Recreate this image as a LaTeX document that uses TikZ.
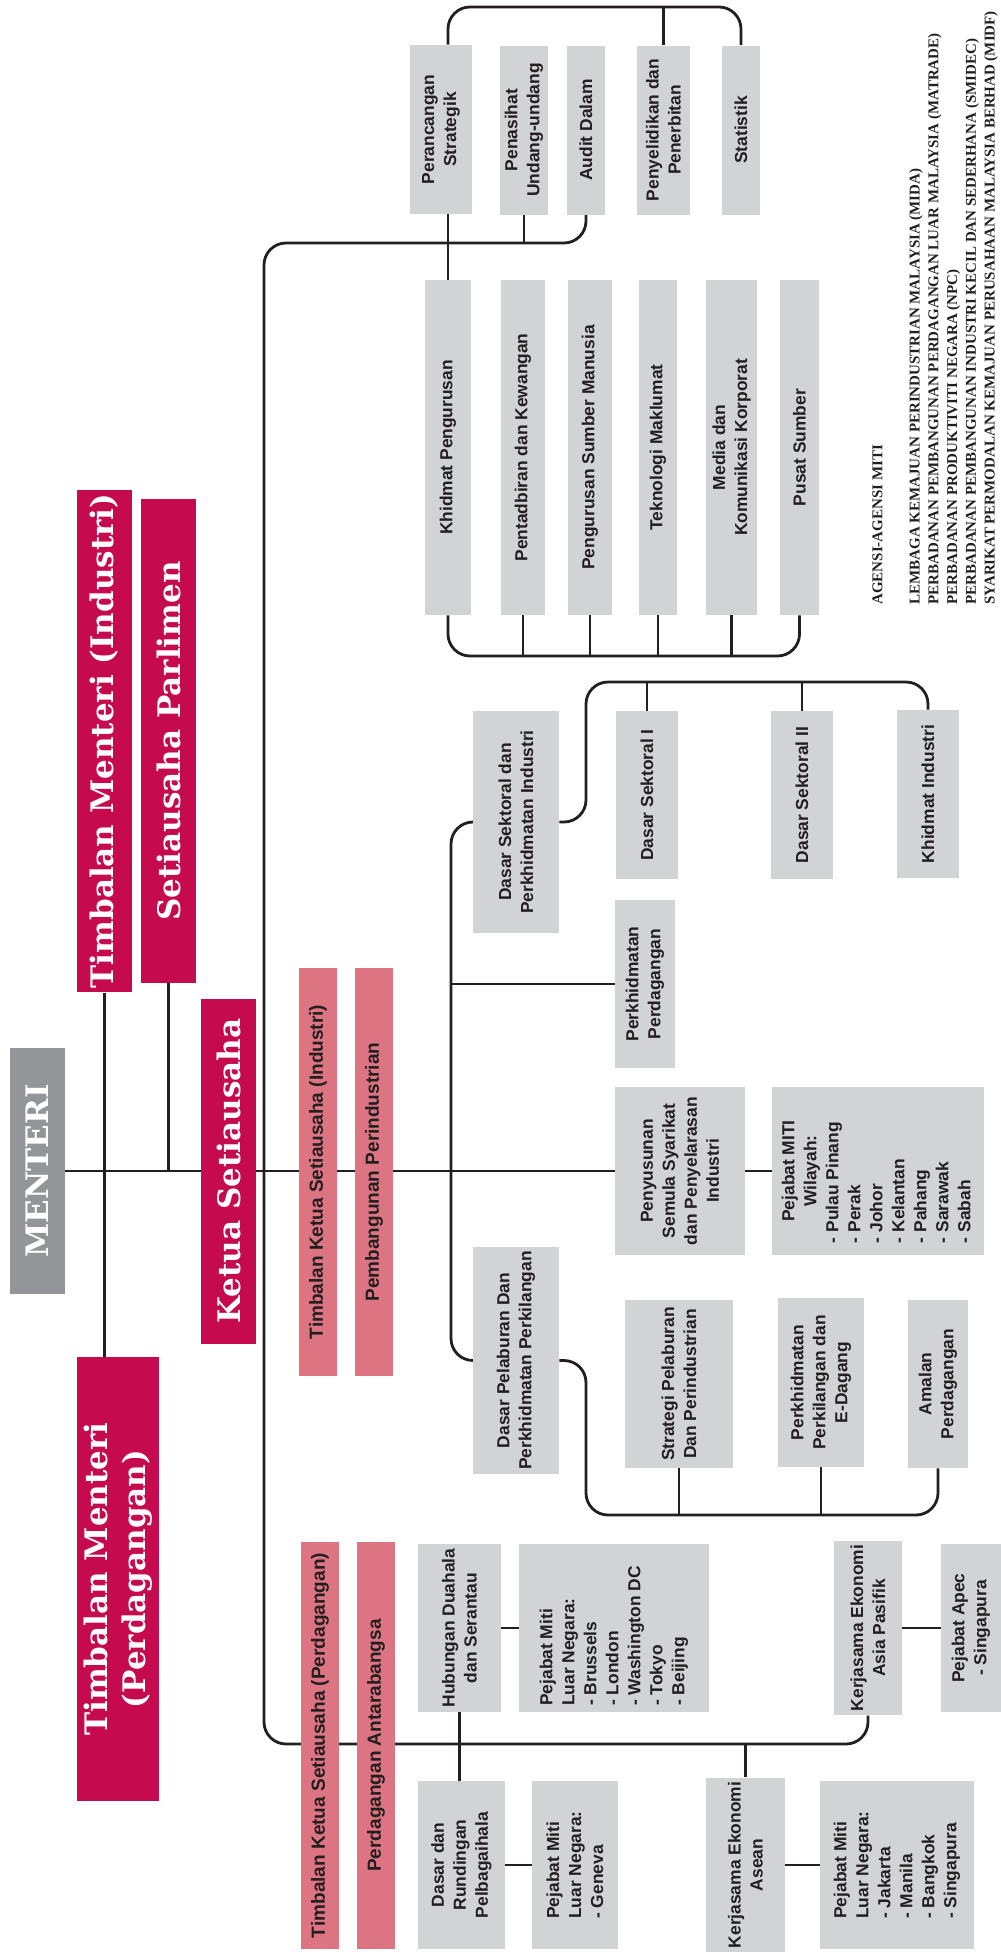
\documentclass[tikz,border=0pt]{standalone}
\usepackage{fontspec}
\setmainfont{Liberation Sans}
\newfontfamily\boxfont{Liberation Sans}
\newfontfamily\slabfont{DejaVu Serif}
\newfontfamily\agencyfont{Liberation Serif}
\definecolor{crimson}{RGB}{197,10,77}
\definecolor{rosepink}{RGB}{220,117,129}
\definecolor{boxgray}{RGB}{209,211,212}
\definecolor{headgray}{RGB}{147,149,152}
\definecolor{inkline}{RGB}{35,31,32}
\usetikzlibrary{backgrounds}

\begin{document}
\begin{tikzpicture}[x=0.5pt, y=-0.5pt,
    conn/.style={draw=inkline, line width=1.4pt, rounded corners=11pt},
    sz/.style 2 args={rotate=90, minimum width=#1*0.5pt, minimum height=#2*0.5pt},
    unit/.style={fill=boxgray, text=inkline, inner sep=2pt, align=center,
                 font=\boxfont\bfseries\fontsize{8.7}{11}\selectfont},
    deputy/.style={fill=rosepink, text=inkline, inner sep=0pt,
                   font=\boxfont\bfseries\fontsize{9.5}{12}\selectfont},
    chief/.style={fill=crimson, text=white, inner sep=2pt, align=center,
                  font=\slabfont\bfseries\fontsize{15.5}{19}\selectfont}
  ]
  \useasboundingbox (0,0) rectangle (1001,1954);

  % minister level
  \node[chief, fill=headgray, sz={246}{55}] (menteri) at (37.5,1171) {MENTERI};
  \node[chief, sz={484}{55}] (tmind) at (104.5,741) {Timbalan Menteri (Industri)};
  \node[chief, sz={484}{55}] (spar) at (168.5,741) {Setiausaha Parlimen};
  \node[chief, sz={444}{82}] (tmdag) at (118,1579) {Timbalan Menteri\\(Perdagangan)};
  \node[chief, sz={345}{55}] (ksu) at (228.5,1171) {Ketua Setiausaha};

  % deputy secretaries
  \node[deputy, sz={408}{38}] (tksuind) at (318,1172) {Timbalan Ketua Setiausaha (Industri)};
  \node[deputy, sz={408}{38}] (pemb) at (374,1172) {Pembangunan Perindustrian};
  \node[deputy, sz={407}{38}] (tksudag) at (320,1745.5) {Timbalan Ketua Setiausaha (Perdagangan)};
  \node[deputy, sz={407}{38}] (pantar) at (376,1745.5) {Perdagangan Antarabangsa};

  % management
  \node[unit, sz={169}{62}] (perancangan) at (441,129.5) {Perancangan\\Strategik};
  \node[unit, sz={169}{48}] (penasihat) at (524,130) {Penasihat\\Undang-undang};
  \node[unit, sz={169}{38}] (audit) at (586,130) {Audit Dalam};
  \node[unit, sz={169}{53}] (penyelidikan) at (663.5,130) {Penyelidikan dan\\Penerbitan};
  \node[unit, sz={169}{38}] (statistik) at (741,130) {Statistik};
  \node[unit, sz={335}{46}] (khidmat) at (448,447.5) {Khidmat Pengurusan};
  \node[unit, sz={335}{44}] (pentadbiran) at (523,447.5) {Pentadbiran dan Kewangan};
  \node[unit, sz={335}{44}] (psm) at (590,447.5) {Pengurusan Sumber Manusia};
  \node[unit, sz={335}{38}] (tekno) at (658,447.5) {Teknologi Maklumat};
  \node[unit, sz={335}{51}] (media) at (731.5,447.5) {Media dan\\Komunikasi Korporat};
  \node[unit, sz={335}{39}] (pusat) at (799.5,447.5) {Pusat Sumber};

  % industry
  \node[unit, sz={222}{86}] (dsektoral) at (516,822) {Dasar Sektoral dan\\Perkhidmatan Industri};
  \node[unit, sz={168}{62}] (sektor1) at (647,795) {Dasar Sektoral I};
  \node[unit, sz={168}{62}] (sektor2) at (802,795) {Dasar Sektoral II};
  \node[unit, sz={168}{62}] (kindustri) at (928,794) {Khidmat Industri};
  \node[unit, sz={168}{60}] (pperd) at (645,984) {Perkhidmatan\\Perdagangan};
  \node[unit, sz={168}{130}] (penyusunan) at (680,1171) {Penyusunan\\Semula Syarikat\\dan Penyelarasan\\Industri};
  \node[unit, sz={168}{212}] (wilayah) at (878,1171)
    {\begin{tabular}{@{}l@{}}\makebox[72pt]{Pejabat MITI}\\ \makebox[72pt]{Wilayah:}\\
     - Pulau Pinang\\ - Perak\\ - Johor\\ - Kelantan\\ - Pahang\\ - Sarawak\\ - Sabah\end{tabular}};
  \node[unit, sz={225}{86}] (dpelaburan) at (516,1360.5) {Dasar Pelaburan Dan\\Perkhidmatan Perkilangan};
  \node[unit, sz={168}{108}] (strategi) at (679,1384) {Strategi Pelaburan\\Dan Perindustrian};
  \node[unit, sz={169}{86}] (perkilangan) at (821,1382.5) {Perkhidmatan\\Perkilangan dan\\E-Dagang};
  \node[unit, sz={168}{60}] (amalan) at (938,1384) {Amalan\\Perdagangan};

  % trade
  \node[unit, sz={168}{83}] (duahala) at (459.5,1628) {Hubungan Duahala\\dan Serantau};
  \node[unit, sz={168}{190}] (lnbrussels) at (614,1628)
    {\begin{tabular}{@{}l@{}}Pejabat Miti\\ Luar Negara:\\ - Brussels\\ - London\\
     - Washington DC\\ - Tokyo\\ - Beijing\end{tabular}\hspace*{8pt}};
  \node[unit, sz={168}{87}] (pelbagaihala) at (461.5,1865) {Dasar dan\\Rundingan\\Pelbagaihala};
  \node[unit, sz={168}{86}, align=left] (lngeneva) at (575,1865) {Pejabat Miti\\Luar Negara:\\- Geneva};
  \node[unit, sz={168}{79}] (asean) at (745.5,1865) {Kerjasama Ekonomi\\Asean};
  \node[unit, sz={168}{154}, align=left] (lnjakarta) at (897,1865)
    {Pejabat Miti\\Luar Negara:\\- Jakarta\\- Manila\\- Bangkok\\- Singapura};
  \node[unit, sz={168}{68}] (apac) at (868,1628) {Kerjasama Ekonomi\\Asia Pasifik};
  \node[unit, sz={168}{60}] (apec) at (971,1628) {Pejabat Apec\\- Singapura};

  % agencies
  \node[rotate=90, anchor=north west, inner sep=0pt, align=left, text=inkline,
        font=\agencyfont\bfseries\fontsize{7.5}{9.35}\selectfont] (agensi) at (872,605)
    {AGENSI-AGENSI MITI\\[9.35pt]
     LEMBAGA KEMAJUAN PERINDUSTRIAN MALAYSIA (MIDA)\\
     PERBADANAN PEMBANGUNAN PERDAGANGAN LUAR MALAYSIA (MATRADE)\\
     PERBADANAN PRODUKTIVITI NEGARA (NPC)\\
     PERBADANAN PEMBANGUNAN INDUSTRI KECIL DAN SEDERHANA (SMIDEC)\\
     SYARIKAT PERMODALAN KEMAJUAN PERUSAHAAN MALAYSIA BERHAD (MIDF)};

  \coordinate (topbar) at (0,7);
  \coordinate (upperbar) at (264,243);
  \coordinate (spinebot) at (264,1744);
  \coordinate (lowbar) at (0,656);
  \coordinate (midspine) at (451,1000);
  \coordinate (sekbar) at (586,682);
  \coordinate (pelbar) at (586,1515);

  \begin{scope}[on background layer]
    \draw[conn] (khidmat.east |- perancangan.east) |- (topbar -| statistik) -- (statistik.east);
    \draw[conn] (penyelidikan.east) -- (penyelidikan.east |- topbar);
    \draw[conn] (audit.west) |- (upperbar) -- (spinebot) -| (apac.west);
    \draw[conn] (penasihat.west) -- (penasihat.west |- upperbar);
    \draw[conn] (khidmat.east) -- (khidmat.east |- perancangan.west);
    \draw[conn] (khidmat.west) |- (lowbar -| pusat) -- (pusat.west);
    \foreach \n in {pentadbiran,psm,tekno,media}
      \draw[conn] (\n.west) -- (\n.west |- lowbar);
    \draw[conn] (menteri.south) -- (penyusunan.north);
    \draw[conn] (penyusunan.south) -- (wilayah.north);
    \draw[conn] (tmind.west) -- (tmind.west |- tmdag.east);
    \draw[conn] (spar.west) -- (spar.west |- menteri.south);
    \draw[conn] (dsektoral.north) -| (midspine) |- (dpelaburan.north);
    \draw[conn] (midspine |- pperd) -- (pperd.north);
    \draw[conn] (dsektoral.south) -| (sekbar) -| (kindustri.east);
    \foreach \n in {sektor1,sektor2}
      \draw[conn] (\n.east) -- (\n.east |- sekbar);
    \draw[conn] (dpelaburan.south) -| (pelbar) -| (amalan.west);
    \foreach \n in {strategi,perkilangan}
      \draw[conn] (\n.west) -- (\n.west |- pelbar);
    \draw[conn] (duahala.west) -- (duahala.west |- pelbagaihala.east);
    \draw[conn] (duahala.south) -- (lnbrussels.north);
    \draw[conn] (pelbagaihala.south) -- (lngeneva.north);
    \draw[conn] (asean.east) -- (asean.east |- spinebot);
    \draw[conn] (asean.south) -- (lnjakarta.north);
    \draw[conn] (apac.south) -- (apec.north);
  \end{scope}
\end{tikzpicture}
\end{document}
